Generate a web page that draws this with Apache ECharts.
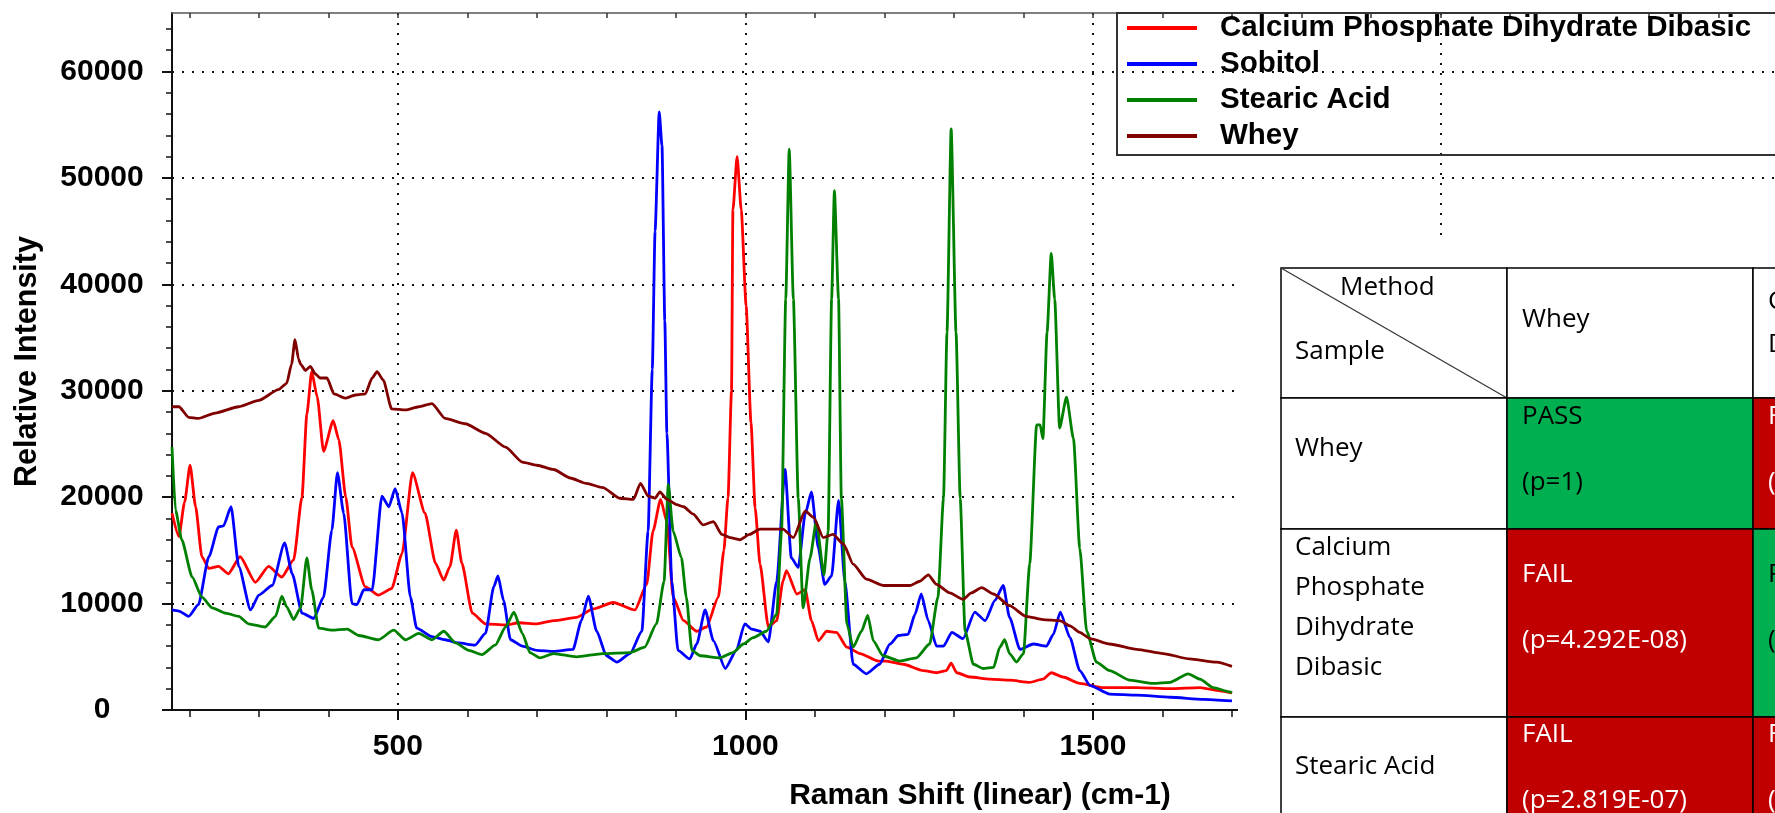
<!DOCTYPE html>
<html>
<head>
<meta charset="utf-8">
<script src="https://cdn.jsdelivr.net/npm/echarts@6/dist/echarts.min.js"></script>
<style>
html, body { margin: 0; padding: 0; background: #fff; }
#chart { width: 1775px; height: 813px; }
</style>
</head>
<body>
<div id="chart"></div>
<script>
// Raman spectra, [shift cm-1, relative intensity]
const calcium = [[175,18500],[185,16300],[193,19500],[201,23000],[209,19100],[218,14400],[228,13300],[242,13500],[256,12800],[273,14400],[295,12000],[314,13500],[333,12500],[350,14100],[362,20000],[369,27800],[376,31800],[384,29400],[393,24300],[407,27200],[415,25400],[425,20000],[434,15300],[453,11600],[472,10800],[491,11400],[506,14700],[521,22300],[539,18500],[554,13800],[566,12200],[575,13500],[584,16900],[592,13800],[607,9100],[626,8100],[655,8000],[675,8200],[700,8100],[724,8400],[757,8700],[781,9500],[810,10100],[841,9400],[858,11800],[867,16800],[878,19800],[887,17700],[896,10600],[911,8400],[930,7400],[944,7800],[961,10600],[969,15000],[975,20000],[980,30000],[982,47000],[988,52000],[994,47000],[1001,38000],[1008,27000],[1014,19000],[1021,13700],[1033,7800],[1045,8400],[1054,12100],[1059,13100],[1074,10900],[1086,11300],[1095,8400],[1105,6500],[1117,7400],[1131,7300],[1146,5900],[1165,5300],[1191,4600],[1203,4600],[1227,4300],[1256,3700],[1275,3500],[1289,3700],[1296,4400],[1304,3500],[1323,3100],[1352,2900],[1380,2800],[1409,2600],[1428,2900],[1440,3500],[1457,3100],[1481,2500],[1515,2100],[1563,2100],[1611,2000],[1654,2100],[1683,1800],[1700,1600]];
const sobitol = [[175,9400],[185,9300],[199,8800],[213,9900],[228,14400],[242,17200],[249,17300],[260,19100],[271,13500],[288,9400],[300,10800],[319,11700],[337,15700],[348,12800],[362,9100],[379,8600],[393,10600],[405,16900],[413,22300],[422,18500],[434,10000],[441,9900],[451,11300],[463,11300],[477,20100],[487,19100],[496,20800],[506,18500],[518,10600],[527,7700],[549,6900],[568,6600],[587,6300],[611,6100],[626,7200],[638,11600],[644,12600],[652,10300],[662,6600],[679,6000],[700,5600],[724,5500],[752,5700],[764,8400],[774,10700],[786,7400],[800,5100],[815,4500],[834,5300],[851,7400],[860,16800],[866,32000],[870,45000],[876,56200],[880,53000],[884,36600],[887,26000],[894,12100],[903,5600],[920,4800],[930,6200],[942,9400],[954,6500],[971,3900],[987,5600],[999,8100],[1009,7600],[1021,7400],[1033,6400],[1045,12100],[1057,22600],[1066,14300],[1076,13400],[1086,18400],[1095,20500],[1105,15200],[1114,11800],[1124,12600],[1134,19700],[1143,12100],[1155,4300],[1174,3400],[1193,4300],[1208,6200],[1220,7000],[1234,7100],[1244,9000],[1253,10900],[1263,8400],[1275,6000],[1285,6000],[1297,7300],[1313,6700],[1330,9200],[1345,8400],[1359,10300],[1371,11700],[1380,8700],[1395,5700],[1414,6200],[1433,6000],[1443,7100],[1453,9200],[1467,6800],[1481,3700],[1496,2300],[1524,1500],[1563,1400],[1611,1200],[1659,1000],[1700,850]];
const stearic = [[175,24700],[180,18800],[189,16000],[204,12500],[218,10600],[233,9600],[252,9100],[271,8800],[285,8100],[309,7800],[324,8800],[333,10700],[340,9700],[350,8500],[360,9600],[369,14300],[376,11300],[386,7700],[405,7500],[427,7600],[444,7000],[472,6600],[494,7500],[511,6600],[530,7200],[549,6600],[566,7400],[583,6300],[602,5600],[621,5200],[640,6100],[655,7800],[667,9200],[679,7200],[690,5400],[704,4900],[724,5300],[757,5000],[795,5300],[834,5400],[855,5900],[872,8100],[883,12100],[889,21200],[896,16800],[908,14300],[915,10600],[923,5600],[935,5100],[963,4900],[982,5400],[997,6200],[1011,6800],[1030,7400],[1045,9000],[1052,16800],[1058,38600],[1063,52700],[1069,38600],[1076,19900],[1083,9600],[1093,14300],[1102,17700],[1113,12700],[1119,16800],[1124,38600],[1128,48800],[1134,38600],[1138,19900],[1146,8100],[1155,5900],[1167,7400],[1176,8900],[1184,6500],[1198,5100],[1222,4600],[1246,4900],[1265,6200],[1277,10600],[1285,19900],[1290,35500],[1296,54600],[1303,35500],[1309,19900],[1316,7400],[1328,4300],[1342,3900],[1357,4000],[1366,5900],[1373,6600],[1380,5300],[1390,4500],[1400,5300],[1409,13700],[1419,26800],[1424,26800],[1428,25500],[1434,35500],[1440,42900],[1445,38600],[1452,26500],[1462,29400],[1472,25500],[1481,15200],[1491,7400],[1505,4500],[1524,3700],[1553,2800],[1587,2500],[1611,2600],[1637,3400],[1654,2900],[1673,2100],[1697,1700],[1700,1600]];
const whey = [[175,28500],[185,28500],[199,27500],[213,27400],[237,27900],[271,28500],[300,29100],[328,30100],[340,30700],[347,32500],[352,34800],[357,33000],[360,32500],[367,31900],[374,32300],[381,31600],[388,31200],[398,31200],[408,29700],[424,29300],[439,29600],[453,29700],[463,31200],[470,31800],[479,31000],[491,28300],[511,28200],[530,28500],[549,28800],[568,27400],[597,26900],[626,26000],[655,24700],[679,23300],[700,23000],[724,22600],[748,21800],[771,21300],[795,20900],[819,19900],[839,19800],[849,21300],[860,20100],[870,19900],[877,20500],[887,19800],[901,19300],[911,19100],[925,18400],[939,17400],[954,17700],[966,16500],[978,16200],[992,16000],[1006,16500],[1021,17000],[1054,17000],[1069,16200],[1086,18700],[1098,18100],[1112,16200],[1126,16500],[1141,15600],[1155,13700],[1174,12300],[1198,11700],[1237,11700],[1251,12100],[1263,12700],[1275,11800],[1294,11000],[1313,10400],[1325,11000],[1340,11500],[1357,10900],[1380,9800],[1404,8800],[1428,8500],[1452,8400],[1467,7900],[1481,7300],[1496,6700],[1524,6200],[1563,5700],[1601,5300],[1639,4800],[1678,4500],[1700,4100]];

const seriesNames = ['Calcium Phosphate Dihydrate Dibasic', 'Sobitol', 'Stearic Acid', 'Whey'];
const seriesColors = ['#ff0000', '#0000ff', '#008000', '#800000'];
const seriesData = [calcium, sobitol, stearic, whey];

const xLabelValues = [500, 1000, 1500, 2000];
const xTickValues = [200,300,400,600,700,800,900,1100,1200,1300,1400,1600,1700,1800,1900,2100,2200,2300,2400];
const yLabelValues = [0, 10000, 20000, 30000, 40000, 50000, 60000];
const yTickValues = [2000,4000,6000,8000,12000,14000,16000,18000,22000,24000,26000,28000,32000,34000,36000,38000,42000,44000,46000,48000,52000,54000,56000,58000,62000,64000];

// method comparison table (rows = sample, cols = method)
const methodHeaders = ['Whey', 'Calcium Phosphate\nDihydrate Dibasic'];
const sampleLabels = ['Whey', 'Calcium\nPhosphate\nDihydrate\nDibasic', 'Stearic Acid'];
const verdicts = [['PASS', 'FAIL'], ['FAIL', 'PASS'], ['FAIL', 'FAIL']];
const pValues = [['1', '4.292E-08'], ['4.292E-08', '1'], ['2.819E-07', '—']];

const axisFont = "'Liberation Sans', Arial, sans-serif";
const tableFont = "'Open Sans', 'Noto Sans', sans-serif";

function buildTable() {
	const colX = [1281, 1507, 1753];
	const colW = [226, 246, 246];
	const rowY = [268, 398, 529, 717];
	const rowH = [130, 131, 188, 188];
	const labelCenter = [449, null, 767];
	const resultTop = [400, 558, 718];
	const els = [];
	const cell = (x, y, w, h, fill) => ({
		type: 'rect', shape: { x, y, width: w, height: h },
		style: { fill, stroke: '#000', lineWidth: 1.5 }
	});
	const txt = (x, y, text, color, vAlign, lh) => ({
		type: 'text', x, y,
		style: { text, fill: color, font: '26px ' + tableFont, verticalAlign: vAlign || 'middle', lineHeight: lh || 33 }
	});
	els.push({ type: 'rect', shape: { x: 1238, y: 243, width: 600, height: 600 }, style: { fill: '#fff' } });
	// header row
	els.push(cell(colX[0], rowY[0], colW[0], rowH[0], '#fff'));
	els.push({ type: 'line', shape: { x1: colX[0], y1: rowY[0], x2: colX[0] + colW[0], y2: rowY[0] + rowH[0] }, style: { stroke: '#333', lineWidth: 1.2 } });
	els.push(txt(1340, 288, 'Method', '#000'));
	els.push(txt(1295, 352, 'Sample', '#000'));
	methodHeaders.forEach((m, j) => {
		els.push(cell(colX[j + 1], rowY[0], colW[j + 1], rowH[0], '#fff'));
		const lines = m.split('\n').length;
		els.push(txt(colX[j + 1] + 15, lines > 1 ? 280 : 320, m, '#000', lines > 1 ? 'top' : 'middle', 43));
	});
	sampleLabels.forEach((s, i) => {
		const y = rowY[i + 1], h = rowH[i + 1];
		els.push(cell(colX[0], y, colW[0], h, '#fff'));
		if (labelCenter[i] === null) {
			els.push(txt(1295, y - 1, s, '#000', 'top', 40));
		} else {
			els.push(txt(1295, labelCenter[i], s, '#000'));
		}
		verdicts[i].forEach((v, j) => {
			const pass = v === 'PASS';
			els.push(cell(colX[j + 1], y, colW[j + 1], h, pass ? '#00b050' : '#c00000'));
			els.push(txt(colX[j + 1] + 15, resultTop[i], v + '\n\n(p=' + pValues[i][j] + ')', pass ? '#000' : '#fff', 'top', 33));
		});
	});
	return els;
}

const chart = echarts.init(document.getElementById('chart'), null, { renderer: 'canvas' });

const boldText = { fontFamily: axisFont, fontWeight: 'bold', fontSize: 30, color: '#000' };
const plain = v => String(v);
const dotted = { type: [2, 8], color: '#111', width: 2 };

chart.setOption({
	animation: false,
	backgroundColor: '#fff',
	grid: { left: 172, top: 13, width: 1616, height: 697, outerBoundsMode: 'none', containLabel: false },
	legend: {
		orient: 'vertical', left: 1117, top: 13,
		padding: [0, 60, 4, 10], itemGap: 6, itemWidth: 70, itemHeight: 4, icon: 'rect',
		borderColor: '#333', borderWidth: 2, backgroundColor: 'transparent',
		textStyle: Object.assign({}, boldText, { fontSize: 29.5, lineHeight: 30, padding: [0, 0, 0, 18] }),
		data: seriesNames
	},
	xAxis: [
		{
			type: 'value', min: 175, max: 2500, position: 'bottom',
			name: 'Raman Shift (linear) (cm-1)', nameLocation: 'middle', nameGap: 71, nameTextStyle: boldText,
			axisLine: { show: true, onZero: false, lineStyle: { color: '#111', width: 2 } },
			axisTick: { show: true, length: 10, customValues: xLabelValues, lineStyle: { color: '#111', width: 2 } },
			axisLabel: Object.assign({ customValues: xLabelValues, margin: 22, formatter: plain }, boldText),
			splitLine: { show: true, showMinLine: true, showMaxLine: true, lineStyle: dotted }
		},
		{
			type: 'value', min: 175, max: 2500, position: 'bottom',
			axisLine: { show: false },
			axisTick: { show: true, length: 7, customValues: xTickValues, lineStyle: { color: '#111', width: 1.5 } },
			axisLabel: { show: false }, splitLine: { show: false }
		},
		{
			type: 'value', min: 175, max: 2500, position: 'top',
			axisLine: { show: true, onZero: false, lineStyle: { color: '#555', width: 1.5 } },
			axisTick: { show: true, inside: true, length: 5, customValues: xTickValues.concat(xLabelValues), lineStyle: { color: '#333', width: 1.5 } },
			axisLabel: { show: false }, splitLine: { show: false }
		}
	],
	yAxis: [
		{
			type: 'value', min: 0, max: 65500, interval: 10000, position: 'left',
			name: 'Relative Intensity', nameLocation: 'middle', nameRotate: 90, nameGap: 129,
			nameTextStyle: Object.assign({}, boldText, { fontSize: 30.5 }),
			axisLine: { show: true, lineStyle: { color: '#111', width: 2 } },
			axisTick: { show: true, length: 10, customValues: yLabelValues, lineStyle: { color: '#111', width: 2 } },
			axisLabel: Object.assign({ customValues: yLabelValues, margin: 70, align: 'center', formatter: plain }, boldText),
			splitLine: { show: true, showMinLine: false, showMaxLine: true, lineStyle: dotted }
		},
		{
			type: 'value', min: 0, max: 65500, position: 'left',
			axisLine: { show: false },
			axisTick: { show: true, length: 6, customValues: yTickValues, lineStyle: { color: '#111', width: 1.5 } },
			axisLabel: { show: false }, splitLine: { show: false }
		}
	],
	series: seriesNames.map((name, i) => ({
		name, type: 'line', xAxisIndex: 0, yAxisIndex: 0,
		data: seriesData[i], showSymbol: false, symbol: 'none',
		smooth: 0.2, smoothMonotone: 'x',
		lineStyle: { color: seriesColors[i], width: 2.8 },
		itemStyle: { color: seriesColors[i] }
	})),
	graphic: { elements: buildTable().map(e => Object.assign({ z: 100 }, e)) }
});
</script>
</body>
</html>
